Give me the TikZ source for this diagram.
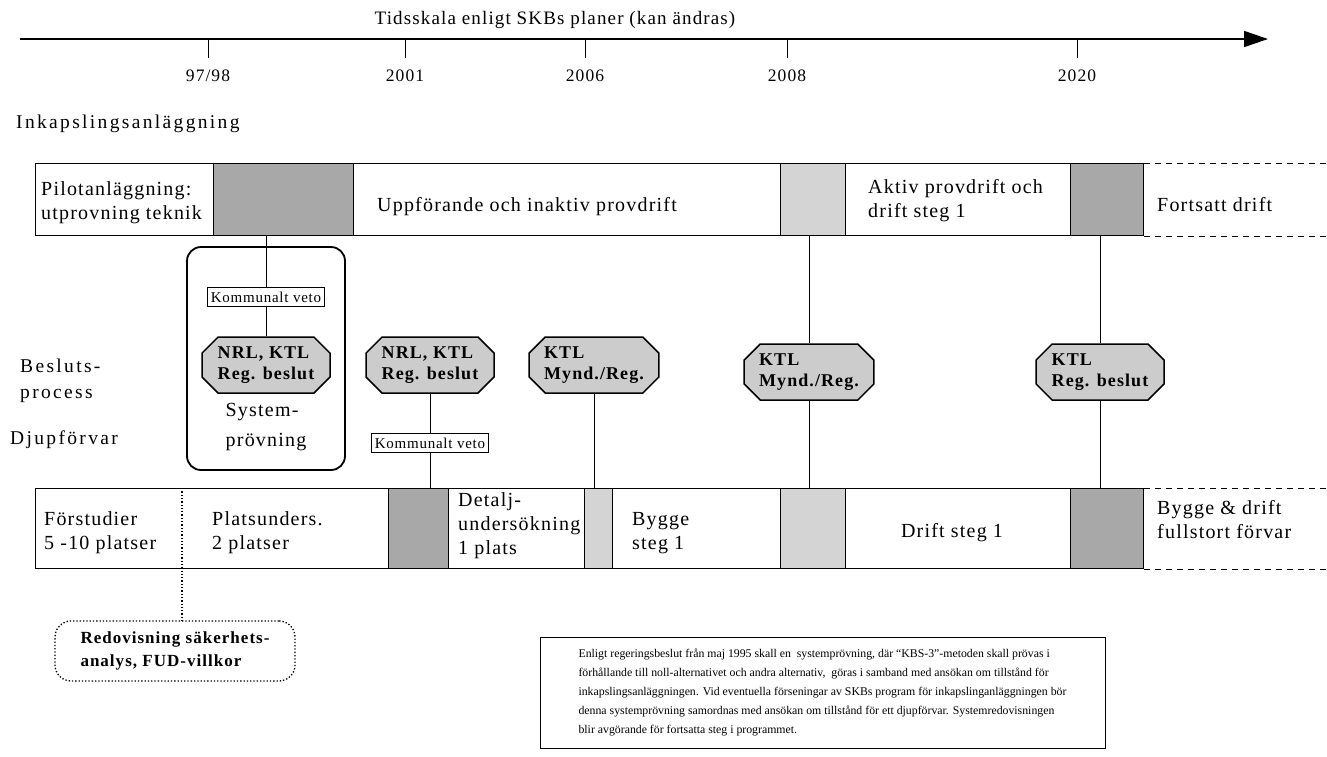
\documentclass[tikz,border=0pt]{standalone}
\usepackage{fontspec}
\setmainfont{Liberation Serif}[LetterSpace=6]
\newfontfamily\notefont{Liberation Serif}
\newfontfamily\widefont{Liberation Serif}[LetterSpace=12]
\newfontfamily\vetofont{Liberation Serif}[LetterSpace=5]
\usetikzlibrary{arrows.meta}
\usetikzlibrary{shapes.misc}
\usetikzlibrary{positioning}

\begin{document}
\begin{tikzpicture}[x=1pt, y=-1pt,
  cell/.style={draw, line width=1.1pt, anchor=north west, inner sep=0pt},
  darkcell/.style={cell, fill=black!34},
  lightcell/.style={cell, fill=black!17},
  bartext/.style={font=\fontsize{20}{24}\selectfont, align=left, anchor=west, inner sep=0pt},
  sidetext/.style={font=\widefont\fontsize{19.5}{26}\selectfont, align=left, anchor=west, inner sep=0pt},
  octa/.style={chamfered rectangle, chamfered rectangle xsep=13pt, draw, line width=1.5pt, fill=black!20,
    font=\bfseries\fontsize{18}{21}\selectfont, align=left, minimum width=128pt, minimum height=56pt, inner sep=2pt},
  veto/.style={draw, line width=0.8pt, fill=white, font=\vetofont\fontsize{15}{16}\selectfont, inner xsep=3pt, inner ysep=4pt},
  conn/.style={line width=0.7pt}]
\useasboundingbox (0,0) rectangle (1327,756);

% time axis
\node[font=\fontsize{19}{22}\selectfont] (title) at (555,20) {Tidsskala enligt SKBs planer (kan ändras)};
\coordinate (axstart) at (20,39);
\coordinate (axend) at (1268,39);
\draw[line width=1.6pt, -{Triangle[length=24pt,width=16pt]}] (axstart) -- (axend);
\foreach \x/\yr in {208/{97/98}, 405/2001, 585/2006, 787/2008, 1077/2020}
  \draw[line width=1pt] (\x,39) -- (\x,58) node[below=8pt, font=\fontsize{17.5}{20}\selectfont] (yr-\x) {\yr};

% side labels
\node[sidetext] (inkap) at (16,124) {Inkapslingsanläggning};
\node[sidetext] (beslut) at (20,381) {Besluts-\\process};
\node[sidetext] (djup) at (10,440) {Djupförvar};

% encapsulation plant
\node[cell, minimum width=178pt, minimum height=72pt] (u1) at (35,163) {};
\node[darkcell, minimum width=140pt, minimum height=72pt] (u2) at (213,163) {};
\node[cell, minimum width=427pt, minimum height=72pt] (u3) at (353,163) {};
\node[lightcell, minimum width=65pt, minimum height=72pt] (u4) at (780,163) {};
\node[cell, minimum width=225pt, minimum height=72pt] (u5) at (845,163) {};
\node[darkcell, minimum width=73pt, minimum height=72pt] (u6) at (1070,163) {};
\draw[line width=1pt, dash pattern=on 6pt off 5pt] (u6.north east) -- ++(184,0);
\draw[line width=1pt, dash pattern=on 6pt off 5pt] (u6.south east) -- ++(184,0);
\node[bartext] (t-pilot) at (41,203) {Pilotanläggning:\\utprovning teknik};
\node[bartext, anchor=center] (t-uppf) at (527,207) {Uppförande och inaktiv provdrift};
\node[bartext] (t-aktiv) at (868,201) {Aktiv provdrift och\\drift steg 1};
\node[bartext] (t-forts) at (1157,205) {Fortsatt drift};

% decision process
\node[draw, line width=1.8pt, rounded corners=14pt, minimum width=158pt, minimum height=223pt, inner sep=0pt] (sysbox) at (266,358.5) {};
\node[font=\fontsize{20}{30}\selectfont, align=left] (systxt) at (266,427) {System-\\prövning};
\node[veto] (veto1) at (266,297) {Kommunalt veto};
\node[octa] (oct1) at (266,365) {NRL, KTL\\Reg. beslut};
\node[octa] (oct2) at (430,365) {NRL, KTL\\Reg. beslut};
\node[octa] (oct3) at (594,365) {KTL\\Mynd./Reg.};
\node[octa] (oct4) at (809,372) {KTL\\Mynd./Reg.};
\node[octa] (oct5) at (1100,372) {KTL\\Reg. beslut};
\node[veto] (veto2) at (430,443) {Kommunalt veto};

% deep repository
\node[cell, minimum width=353pt, minimum height=80pt] (l1) at (35,488) {};
\node[darkcell, minimum width=60pt, minimum height=80pt] (l2) at (388,488) {};
\node[cell, minimum width=136pt, minimum height=80pt] (l3) at (448,488) {};
\node[lightcell, minimum width=28pt, minimum height=80pt] (l4) at (584,488) {};
\node[cell, minimum width=168pt, minimum height=80pt] (l5) at (612,488) {};
\node[lightcell, minimum width=65pt, minimum height=80pt] (l6) at (780,488) {};
\node[cell, minimum width=225pt, minimum height=80pt] (l7) at (845,488) {};
\node[darkcell, minimum width=73pt, minimum height=80pt] (l8) at (1070,488) {};
\draw[line width=1pt, dash pattern=on 6pt off 5pt] (l8.north east) -- ++(184,0);
\draw[line width=1pt, dash pattern=on 6pt off 5pt] (l8.south east) -- ++(184,0);
\node[bartext] (t-forst) at (44,533) {Förstudier\\5 -10 platser};
\node[bartext] (t-plats) at (212,533) {Platsunders.\\2 platser};
\node[bartext] (t-detalj) at (458,526) {Detalj-\\undersökning\\1 plats};
\node[bartext] (t-bygge) at (632,533) {Bygge\\steg 1};
\node[bartext, anchor=center] (t-drift) at (952,533) {Drift steg 1};
\node[bartext] (t-full) at (1157,520) {Bygge \& drift\\fullstort förvar};

\node[draw, dotted, line width=1.3pt, rounded corners=16pt, minimum width=240pt, minimum height=60pt,
  font=\bfseries\fontsize{17}{23}\selectfont, align=left] (redov) at (175,651) {Redovisning säkerhets-\\analys, FUD-villkor};
\coordinate (div) at (182,488);
\draw[dotted, line width=1.3pt] (div) -- (div |- redov.north);

% connectors
\draw[conn] (veto1 |- u2.south) -- (veto1.north);
\draw[conn] (veto1.south) -- (oct1.north);
\draw[conn] (oct2.south) -- (veto2.north);
\draw[conn] (veto2.south) -- (veto2 |- l2.north);
\draw[conn] (oct3.south) -- (oct3 |- l4.north);
\draw[conn] (oct4 |- u4.south) -- (oct4.north);
\draw[conn] (oct4.south) -- (oct4 |- l6.north);
\draw[conn] (oct5 |- u6.south) -- (oct5.north);
\draw[conn] (oct5.south) -- (oct5 |- l8.north);

% note
\node[draw, line width=0.6pt, minimum width=565pt, minimum height=111pt, inner sep=0pt,
  font=\notefont\fontsize{11.8}{19}\selectfont, align=left] (note) at (822.5,692.5)
  {Enligt regeringsbeslut från maj 1995 skall en\ \ systemprövning, där “KBS-3”-metoden skall prövas i\\
   förhållande till noll-alternativet och andra alternativ,\ \ göras i samband med ansökan om tillstånd för\\
   inkapslingsanläggningen. Vid eventuella förseningar av SKBs program för inkapslinganläggningen bör\\
   denna systemprövning samordnas med ansökan om tillstånd för ett djupförvar. Systemredovisningen\\
   blir avgörande för fortsatta steg i programmet.};
\end{tikzpicture}
\end{document}
